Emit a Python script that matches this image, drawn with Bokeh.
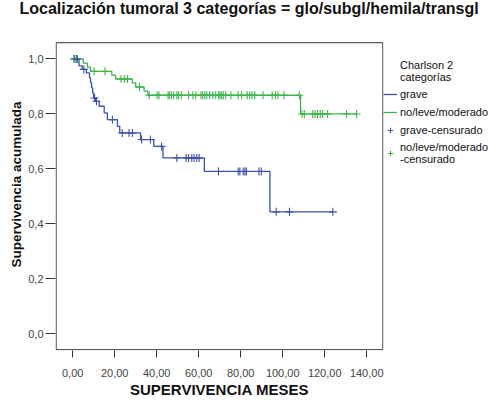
import numpy as np
from bokeh.plotting import figure
from bokeh.models import Legend, LegendItem, FixedTicker, Range1d, LinearAxis
from bokeh.embed import file_html
from bokeh.resources import INLINE

# ---- data ----
grave_t = [3.0, 4.5, 6.5, 8.0, 8.5, 9.0, 9.5, 10.0, 10.8, 12.6, 15.0, 16.5, 21.3, 22.4, 32.3, 38.6, 43.0, 62.7, 93.9]
grave_s = [0.975, 0.962, 0.949, 0.931, 0.913, 0.895, 0.876, 0.858, 0.846, 0.828, 0.804, 0.779, 0.755, 0.731, 0.707, 0.682, 0.640, 0.591, 0.444]
grave_cens = [1.0, 2.2, 5.3, 10.4, 11.3, 18.9, 23.6, 26.8, 28.4, 32.8, 37.0, 42.3, 49.6, 54.0, 55.2, 56.7, 57.8,
              59.1, 60.2, 69.4, 78.8, 79.6, 81.2, 82.0, 82.7, 88.7, 89.8, 96.9, 103.2, 123.9]

nlm_t = [5.0, 7.0, 8.5, 18.6, 20.4, 28.4, 30.0, 34.0, 35.8, 108.5]
nlm_s = [0.985, 0.970, 0.955, 0.941, 0.927, 0.913, 0.898, 0.883, 0.868, 0.800]
nlm_cens = [0.5, 1.8, 10.2, 15.4, 23.0, 24.6, 26.1, 31.8, 36.4, 40.2, 41.1, 45.4, 46.0, 47.0, 48.1, 49.6, 50.4,
            51.7, 55.2, 57.2, 58.6, 61.1, 61.9, 62.9, 63.8, 65.2, 66.7, 68.1, 69.5, 70.1, 70.9, 71.7, 72.8, 75.3,
            78.8, 80.4, 83.1, 84.3, 85.4, 86.7, 90.6, 95.0, 96.5, 97.7, 100.6, 107.9, 109.2, 110.3, 114.3, 115.4,
            116.6, 117.9, 119.0, 121.4, 130.4, 135.2]

x_ticks = [0, 20, 40, 60, 80, 100, 120, 140]
x_tick_labels = ["0,00", "20,00", "40,00", "60,00", "80,00", "100,00", "120,00", "140,00"]
y_ticks = [0.0, 0.2, 0.4, 0.6, 0.8, 1.0]
y_tick_labels = ["0,0", "0,2", "0,4", "0,6", "0,8", "1,0"]

title_text = "Localización tumoral 3 categorías = glo/subgl/hemila/transgl"
legend_title = "Charlson 2\ncategorías"
labels = ["grave", "no/leve/moderado", "grave-censurado", "no/leve/moderado\n-censurado"]

# axis extent of the plotted box (data units)
X_LO, X_HI = -7.9, 147.7
Y_LO, Y_HI = -0.057, 1.059

BLUE = "#3B51AA"
GREEN = "#3CB44A"
FRAME = "#333333"
FONT = "Liberation Sans"


def step_xy(t, s, end):
    xs = [0.0] + list(t) + [end]
    ys = [1.0] + list(s) + [s[-1]]
    return xs, ys


def surv_at(t, s, times):
    tt = np.asarray(t)
    ss = np.concatenate([[1.0], np.asarray(s)])
    idx = np.searchsorted(tt, np.asarray(times), side="right")
    return ss[idx]


def spacer_axis(size, label=None, label_size="5px"):
    ax = LinearAxis(ticker=FixedTicker(ticks=[]), major_tick_out=size, major_tick_in=0,
                    minor_tick_out=0, minor_tick_in=0, major_label_standoff=0,
                    axis_line_color=None, major_tick_line_color=None, minor_tick_line_color=None)
    if label is not None:
        ax.axis_label = label
        ax.axis_label_standoff = 0
        ax.axis_label_text_font_size = label_size
    return ax


# frame is taller than the box: the area above the box holds the title gap
p = figure(frame_width=328, frame_height=332, output_backend="svg", toolbar_location=None,
           x_range=Range1d(X_LO - 0.3, X_HI + 0.3), y_range=Range1d(Y_LO - 0.003, Y_HI + 0.088),
           min_border=0)
p.background_fill_color = "white"
p.border_fill_color = "white"
p.outline_line_color = None
p.xgrid.visible = False
p.ygrid.visible = False

p.title.text = title_text
p.title.text_font = FONT
p.title.text_font_size = "16px"
p.title.text_font_style = "bold"
p.title.text_color = "#111111"
p.title.align = "left"
p.title.vertical_align = "top"
p.title.offset = -36
p.title.standoff = -1

# plot box
p.quad(left=[X_LO], right=[X_HI], bottom=[Y_LO], top=[Y_HI], fill_color=None,
       line_color=FRAME, line_width=1)

gx, gy = step_xy(nlm_t, nlm_s, max(nlm_cens))
bx, by = step_xy(grave_t, grave_s, max(grave_cens))
r_g = p.step(gx, gy, mode="after", line_color=GREEN, line_width=1.3)
r_b = p.step(bx, by, mode="after", line_color=BLUE, line_width=1.3)
r_gc = p.scatter(nlm_cens, surv_at(nlm_t, nlm_s, nlm_cens), marker="cross", size=8,
                 line_color=GREEN, line_width=1.1)
r_bc = p.scatter(grave_cens, surv_at(grave_t, grave_s, grave_cens), marker="cross", size=8,
                 line_color=BLUE, line_width=1.1)

for ax in (p.xaxis[0], p.yaxis[0]):
    ax.axis_line_color = None
    ax.major_tick_line_color = FRAME
    ax.minor_tick_line_color = None
    ax.major_tick_in = 0
    ax.major_label_text_font = FONT
    ax.major_label_text_font_size = "11px"
    ax.major_label_text_color = "#444444"
    ax.axis_label_text_font = FONT
    ax.axis_label_text_font_style = "bold"
    ax.axis_label_text_color = "#111111"

p.xaxis.ticker = FixedTicker(ticks=x_ticks)
p.xaxis.major_label_overrides = dict(zip(x_ticks, x_tick_labels))
p.xaxis.major_tick_out = 7
p.xaxis.major_label_standoff = 11
p.xaxis.axis_label = "SUPERVIVENCIA MESES"
p.xaxis.axis_label_text_font_size = "15px"
p.xaxis.axis_label_standoff = 1

p.yaxis.ticker = FixedTicker(ticks=y_ticks)
p.yaxis.major_label_overrides = dict(zip(y_ticks, y_tick_labels))
p.yaxis.major_tick_out = 10
p.yaxis.major_label_standoff = 2
p.yaxis.axis_label = "Supervivencia acumulada"
p.yaxis.axis_label_text_font_size = "13.5px"
p.yaxis.axis_label_standoff = 1

# invisible spacers that only reserve room outside the axes
p.add_layout(spacer_axis(0, label=" ", label_size="3px"), "left")
p.add_layout(spacer_axis(14), "above")

legend = Legend(items=[
    LegendItem(label=legend_title, renderers=[]),
    LegendItem(label=labels[0], renderers=[r_b]),
    LegendItem(label=labels[1], renderers=[r_g]),
    LegendItem(label=labels[2], renderers=[r_bc]),
    LegendItem(label=labels[3], renderers=[r_gc]),
], location=(0, 185))
legend.label_text_font = FONT
legend.label_text_font_size = "11px"
legend.label_text_color = "#111111"
legend.glyph_width = 14
legend.glyph_height = 14
legend.label_standoff = 3
legend.label_height = 14
legend.spacing = 4
legend.padding = 1
legend.margin = 0
legend.border_line_color = None
legend.background_fill_alpha = 0
p.add_layout(legend, "right")

open("out.html", "w").write(file_html(p, INLINE))
